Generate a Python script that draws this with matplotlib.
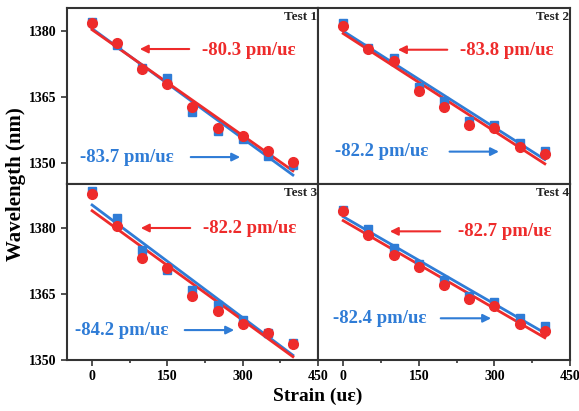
import numpy as np
import matplotlib
matplotlib.use("Agg")
import matplotlib.pyplot as plt
from matplotlib.ticker import MultipleLocator

strain = [0, 50, 100, 150, 200, 250, 300, 350, 400]

# red circles / blue squares per test (nm)
red_1 = [1381.9, 1377.3, 1371.3, 1367.9, 1362.6, 1358.0, 1356.1, 1352.7, 1350.3]
blue_1 = [1382.1, 1376.7, 1371.5, 1369.2, 1361.5, 1357.3, 1355.5, 1351.6, 1349.5]
red_2 = [1381.2, 1375.8, 1373.2, 1366.4, 1362.8, 1358.6, 1357.9, 1353.5, 1352.0]
blue_2 = [1381.7, 1376.1, 1373.8, 1367.2, 1364.0, 1359.6, 1358.6, 1354.6, 1352.6]
red_3 = [1387.7, 1380.4, 1373.2, 1371.0, 1364.6, 1361.1, 1358.2, 1356.1, 1353.7]
blue_3 = [1388.3, 1382.3, 1375.0, 1370.4, 1365.8, 1362.5, 1359.2, 1356.1, 1353.8]
red_4 = [1383.8, 1378.5, 1373.8, 1371.1, 1367.1, 1363.8, 1362.3, 1358.2, 1356.7]
blue_4 = [1384.1, 1379.8, 1375.4, 1371.9, 1368.1, 1364.6, 1363.1, 1359.5, 1357.7]

tests = ["Test 1", "Test 2", "Test 3", "Test 4"]
red_labels = ["-80.3 pm/u\u025b", "-83.8 pm/u\u025b", "-82.2 pm/u\u025b", "-82.7 pm/u\u025b"]
blue_labels = ["-83.7 pm/u\u025b", "-82.2 pm/u\u025b", "-84.2 pm/u\u025b", "-82.4 pm/u\u025b"]
y_ticks = [1350, 1365, 1380]
x_ticks = [0, 150, 300, 450]

RED = "#ee2b2b"
BLUE = "#2f7cd6"

plt.rcParams['font.family'] = ['Liberation Serif', 'DejaVu Serif']
plt.rcParams['font.weight'] = 'bold'

fig = plt.figure(figsize=(5.79, 4.11), dpi=100)

# panel boxes in figure fractions (left, bottom, width, height)
boxes = [(0.1157, 0.5523, 0.4335, 0.4282),
         (0.5492, 0.5523, 0.4353, 0.4282),
         (0.1157, 0.1241, 0.4335, 0.4282),
         (0.5492, 0.1241, 0.4353, 0.4282)]
ylims = [(1345.2, 1385.2), (1345.2, 1385.2), (1350, 1390), (1350, 1390)]

# annotation spots in axes fractions: red text x,y ; red arrow tail,head,y ; blue text x,y ; blue arrow tail,head
red_txt = [(0.538, 0.756), (0.563, 0.761), (0.542, 0.748), (0.556, 0.729)]
red_arr = [(0.498, 0.279, 0.767), (0.524, 0.306, 0.763), (0.502, 0.283, 0.750), (0.496, 0.274, 0.731)]
blue_txt = [(0.052, 0.153), (0.067, 0.184), (0.032, 0.170), (0.060, 0.237)]
blue_arr = [(0.482, 0.701, 0.153), (0.511, 0.729, 0.184), (0.458, 0.677, 0.170), (0.476, 0.698, 0.237)]

reds = [red_1, red_2, red_3, red_4]
blues = [blue_1, blue_2, blue_3, blue_4]

x = np.array(strain)
for i in range(4):
    ax = fig.add_axes(boxes[i])
    r = np.array(reds[i])
    b = np.array(blues[i])
    pb = np.polyfit(x, b, 1)
    pr = np.polyfit(x, r, 1)
    ax.plot(x, b, 's', color=BLUE, ms=6, zorder=3)
    ax.plot(x, r, 'o', color=RED, ms=7, zorder=4)
    ax.plot([0, 400], np.polyval(pb, [0, 400]), color=BLUE, lw=2, zorder=2)
    ax.plot([0, 400], np.polyval(pr, [0, 400]), color=RED, lw=2, zorder=2)

    ax.set_xlim(-50, 450)
    ax.set_ylim(*ylims[i])
    ax.set_xticks(x_ticks)
    ax.set_yticks(y_ticks)
    ax.xaxis.set_minor_locator(MultipleLocator(75))
    for s in ax.spines.values():
        s.set_color('#333333')
        s.set_linewidth(1.5)
    ax.tick_params(which='both', direction='out', color='#333333', width=1.2,
                   labelsize=10, top=False, right=False)
    ax.tick_params(which='major', length=4)
    ax.tick_params(which='minor', length=2.5)
    if i < 2:
        ax.tick_params(axis='x', which='both', bottom=False, labelbottom=False)
    if i % 2 == 1:
        ax.tick_params(axis='y', which='both', left=False, labelleft=False)
    for lab in ax.get_xticklabels() + ax.get_yticklabels():
        lab.set_fontweight('bold')

    ax.text(0.997, 0.985, tests[i], transform=ax.transAxes, ha='right', va='top',
            fontsize=9.5, fontweight='bold', color='#222222')
    tx, ty = red_txt[i]
    ax.text(tx, ty, red_labels[i], transform=ax.transAxes, ha='left', va='center',
            fontsize=13.5, fontweight='bold', color=RED)
    t0, h0, ay = red_arr[i]
    ax.annotate('', xy=(h0, ay), xytext=(t0, ay), xycoords='axes fraction',
                arrowprops=dict(arrowstyle='-|>', color=RED, lw=1.5, mutation_scale=12))
    tx, ty = blue_txt[i]
    ax.text(tx, ty, blue_labels[i], transform=ax.transAxes, ha='left', va='center',
            fontsize=13.5, fontweight='bold', color=BLUE)
    t0, h0, ay = blue_arr[i]
    ax.annotate('', xy=(h0, ay), xytext=(t0, ay), xycoords='axes fraction',
                arrowprops=dict(arrowstyle='-|>', color=BLUE, lw=1.5, mutation_scale=12))

fig.text(0.028, 0.552, "Wavelength (nm)", rotation=90, ha='center', va='center',
         fontsize=15, fontweight='bold')
fig.text(0.549, 0.035, "Strain (u\u025b)", ha='center', va='center',
         fontsize=14, fontweight='bold')

fig.savefig("out.png", dpi=100)
